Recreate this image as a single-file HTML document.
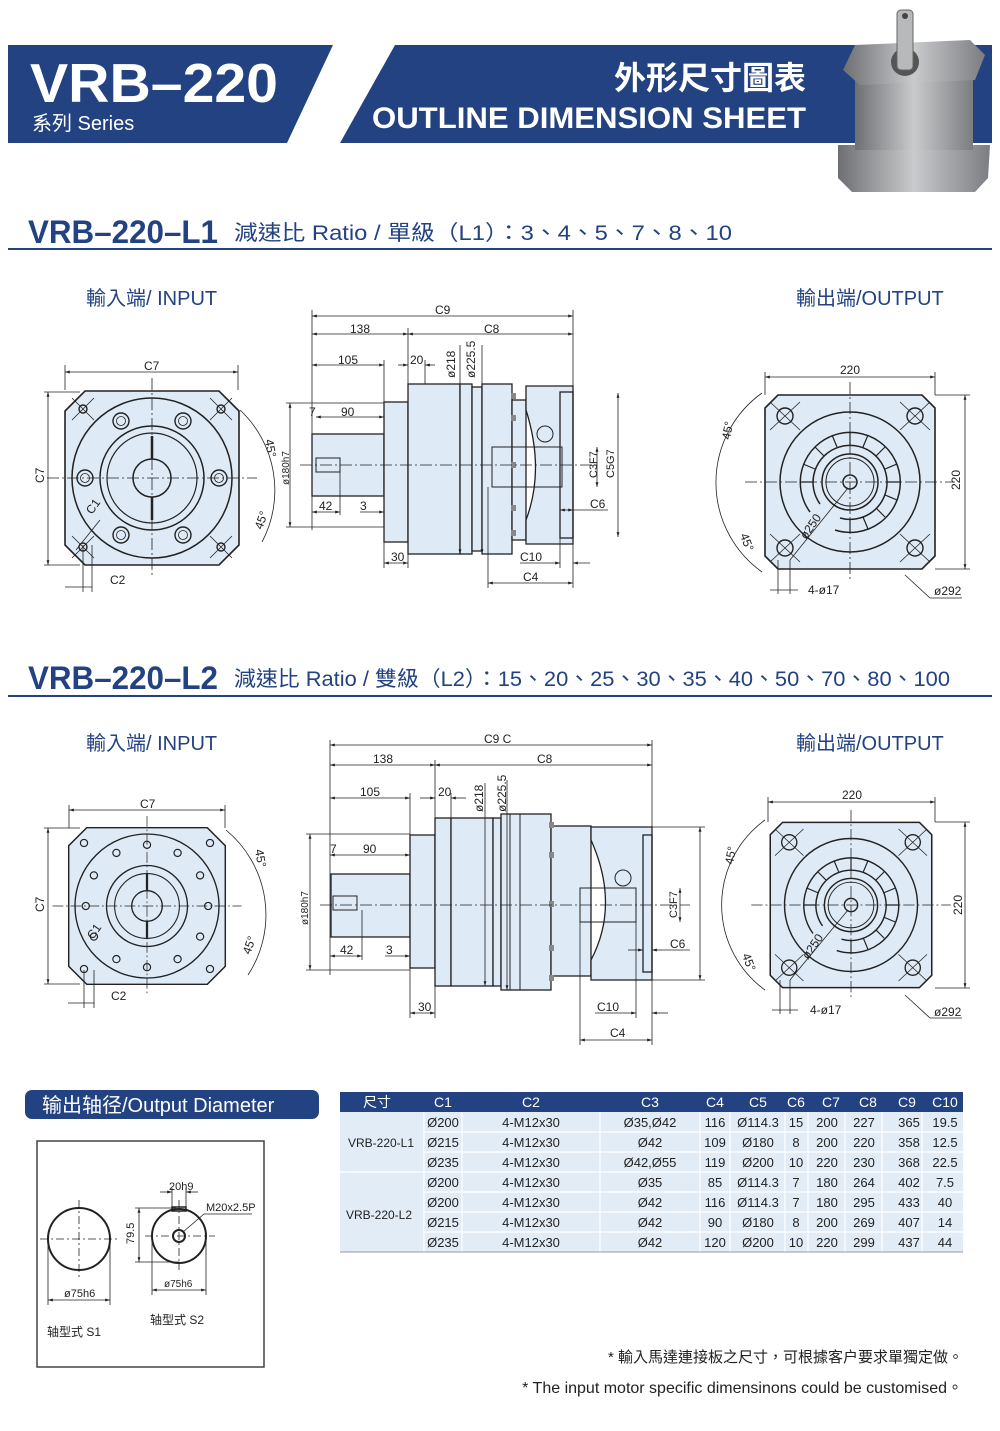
<!DOCTYPE html>
<html><head><meta charset="utf-8"><style>
html,body{margin:0;padding:0;background:#fff}
svg{display:block}
text{font-family:"Liberation Sans","Noto Sans CJK TC",sans-serif}
</style></head><body>
<svg width="1000" height="1431" viewBox="0 0 1000 1431" xmlns="http://www.w3.org/2000/svg">
<defs>
<linearGradient id="gm" x1="0" x2="1"><stop offset="0" stop-color="#6d6f72"/><stop offset=".5" stop-color="#c9cacc"/><stop offset="1" stop-color="#7b7d80"/></linearGradient>
<marker id="a" viewBox="0 0 10 10" refX="10" refY="5" markerWidth="6" markerHeight="6" orient="auto-start-reverse"><path d="M0,2 L10,5 L0,8z" fill="#222"/></marker>
<g id="inview">
 <path d="M-67,-87 L67,-87 L87,-67 L87,67 L67,87 L-67,87 L-87,67 L-87,-67Z" fill="#deeaf6" stroke="#222" stroke-width="1.6"/>
 <circle r="80" fill="none" stroke="#222" stroke-width="1.5"/>
 <circle r="52" fill="none" stroke="#222" stroke-width="1.5"/>
 <circle r="45" fill="none" stroke="#222" stroke-width="1.2"/>
 <circle r="19" fill="#deeaf6" stroke="#222" stroke-width="1.5"/>
 <line x1="0" y1="-42" x2="0" y2="-19" stroke="#222" stroke-width="2.5"/>
 <line x1="0" y1="19" x2="0" y2="42" stroke="#222" stroke-width="2.5"/>
 <g fill="#deeaf6" stroke="#222" stroke-width="1.4">
  <circle cx="-31" cy="-57" r="8"/><circle cx="31" cy="-57" r="8"/><circle cx="-67" cy="0" r="8"/><circle cx="67" cy="0" r="8"/><circle cx="-31" cy="57" r="8"/><circle cx="31" cy="57" r="8"/>
  <circle cx="-69" cy="-69" r="4"/><circle cx="69" cy="-69" r="4"/><circle cx="-69" cy="69" r="4"/><circle cx="69" cy="69" r="4"/>
 </g>
 <g fill="none" stroke="#222" stroke-width=".8">
  <circle cx="-31" cy="-57" r="4.5"/><circle cx="31" cy="-57" r="4.5"/><circle cx="-67" cy="0" r="4.5"/><circle cx="67" cy="0" r="4.5"/><circle cx="-31" cy="57" r="4.5"/><circle cx="31" cy="57" r="4.5"/>
  <path d="M-80,-80 L-58,-58 M80,-80 L58,-58 M-80,80 L-58,58 M80,80 L58,58 M-80,-58 L-58,-80 M80,-58 L58,-80 M-80,58 L-58,80 M80,58 L58,80"/>
 </g>
 <g stroke="#222" stroke-width=".8" stroke-dasharray="12,3,2,3"><line x1="-105" y1="0" x2="105" y2="0"/><line x1="0" y1="-100" x2="0" y2="100"/></g>
</g>
<g id="outview">
 <path d="M-72,-87 L72,-87 L85,-74 L85,74 L72,87 L-72,87 L-85,74 L-85,-74Z" fill="#deeaf6" stroke="#222" stroke-width="1.6"/>
 <circle r="70" fill="none" stroke="#222" stroke-width="1.5"/>
 <path d="M-30,22 A37,37 0 1 1 -10,36" fill="none" stroke="#222" stroke-width="1.5"/>
 <path d="M-40,30 A50,50 0 1 1 -15,48" fill="none" stroke="#222" stroke-width="1.5"/>
 <circle r="28" fill="none" stroke="#222" stroke-width="1.5"/>
 <circle r="24" fill="none" stroke="#222" stroke-width="1"/>
 <circle r="7" fill="#deeaf6" stroke="#222" stroke-width="1.5"/>
 <g stroke="#222" stroke-width="1.2"><path d="M0,-37 V-50 M26,-26 L35,-35 M37,0 H50 M26,26 L35,35 M0,37 V50 M-26,-26 L-35,-35 M-37,0 H-50 M13,-35 L18,-47 M-13,-35 L-18,-47 M35,-13 L47,-18 M35,13 L47,18 M13,35 L18,47 M-35,-13 L-47,-18"/></g>
 <g fill="#deeaf6" stroke="#222" stroke-width="1.4"><circle cx="-65" cy="-66" r="8"/><circle cx="65" cy="-66" r="8"/><circle cx="-65" cy="66" r="8"/><circle cx="65" cy="66" r="8"/></g>
 <g fill="none" stroke="#222" stroke-width=".8"><path d="M-80,-80 L-50,-52 M80,-80 L50,-52 M-80,80 L-50,52 M80,80 L50,52 M-80,-52 L-50,-80 M80,-52 L50,-80 M-80,52 L-50,80 M80,52 L50,80"/></g>
 <g stroke="#222" stroke-width=".8" stroke-dasharray="12,3,2,3"><line x1="-105" y1="0" x2="105" y2="0"/><line x1="0" y1="-100" x2="0" y2="100"/></g>
</g>
</defs>

<!-- header -->
<path d="M8,45 L333,45 L287,143 L8,143Z" fill="#234282"/>
<path d="M395,45 L992,45 L992,143 L340,143Z" fill="#234282"/>
<text x="30" y="102" font-size="55" font-weight="bold" fill="#fff" textLength="248" lengthAdjust="spacingAndGlyphs">VRB–220</text>
<text x="32" y="130" font-size="20" fill="#fff">系列 Series</text>
<text x="806" y="89" font-size="32" font-weight="bold" fill="#fff" text-anchor="end">外形尺寸圖表</text>
<text x="806" y="128" font-size="30" font-weight="bold" fill="#fff" text-anchor="end" textLength="434" lengthAdjust="spacingAndGlyphs">OUTLINE DIMENSION SHEET</text>
<!-- product image -->
<path d="M838,145 L990,145 L988,178 L975,192 L852,192 L838,178Z" fill="url(#gm)"/>
<rect x="855" y="80" width="118" height="70" fill="url(#gm)"/>
<path d="M855,45 L970,40 L985,55 L975,80 L860,85 L843,70Z" fill="url(#gm)"/>
<circle cx="905" cy="62" r="14" fill="#555"/>
<rect x="897" y="10" width="16" height="60" rx="4" fill="#b8b9bb" stroke="#666" stroke-width="1"/>
<circle cx="905" cy="16" r="3" fill="#444"/>

<!-- section titles -->
<text x="28" y="243" font-size="32" font-weight="bold" fill="#234282" textLength="190" lengthAdjust="spacingAndGlyphs">VRB–220–L1</text>
<text x="234" y="240" font-size="21" fill="#234282" textLength="498" lengthAdjust="spacingAndGlyphs">減速比 Ratio / 單級（L1）：3、4、5、7、8、10</text>
<line x1="8" y1="249" x2="992" y2="249" stroke="#234282" stroke-width="2"/>
<text x="28" y="689" font-size="32" font-weight="bold" fill="#234282" textLength="190" lengthAdjust="spacingAndGlyphs">VRB–220–L2</text>
<text x="234" y="686" font-size="21" fill="#234282" textLength="716" lengthAdjust="spacingAndGlyphs">減速比 Ratio / 雙級（L2）：15、20、25、30、35、40、50、70、80、100</text>
<line x1="8" y1="696" x2="992" y2="696" stroke="#234282" stroke-width="2"/>

<g font-size="20" fill="#234282">
<text x="86" y="305">輸入端/ INPUT</text><text x="796" y="305">輸出端/OUTPUT</text>
<text x="86" y="750">輸入端/ INPUT</text><text x="796" y="750">輸出端/OUTPUT</text>
</g>

<!-- L1 input -->
<use href="#inview" transform="translate(152,478)"/>
<g stroke="#222" stroke-width=".8" fill="none">
<line x1="65" y1="372" x2="238" y2="372" marker-start="url(#a)" marker-end="url(#a)"/>
<line x1="65" y1="365" x2="65" y2="390"/><line x1="238" y1="365" x2="238" y2="390"/>
<line x1="48" y1="392" x2="48" y2="565" marker-start="url(#a)" marker-end="url(#a)"/>
<line x1="44" y1="392" x2="80" y2="392"/><line x1="44" y1="565" x2="80" y2="565"/>
<line x1="65" y1="587" x2="92" y2="587"/><line x1="83" y1="545" x2="83" y2="592"/><line x1="92" y1="545" x2="92" y2="592"/>
<path d="M240,410 A110,110 0 0 1 262,542" />
<line x1="76" y1="550" x2="100" y2="520"/>
</g>
<g font-size="12" fill="#222"><text x="144" y="370">C7</text><text x="44" y="483" transform="rotate(-90 44 483)">C7</text><text x="110" y="584">C2</text><text x="92" y="515" transform="rotate(-55 92 515)">C1</text><text x="265" y="440" transform="rotate(80 265 440)">45°</text><text x="262" y="530" transform="rotate(-70 262 530)">45°</text></g>

<!-- L1 side -->
<g stroke="#222" stroke-width="1.3" fill="#deeaf6">
<rect x="312" y="434" width="72" height="62"/>
<rect x="384" y="402" width="24" height="140"/>
<rect x="408" y="384" width="52" height="170"/>
<rect x="460" y="384" width="12" height="170"/>
<rect x="472" y="387" width="10" height="164"/>
<rect x="482" y="384" width="30" height="170"/>
<rect x="512" y="400" width="14" height="140"/>
<path d="M526,386 L573,386 L573,544 L526,544 L526,520 Q545,470 526,410Z"/>
<rect x="560" y="392" width="13" height="146" fill="none"/>
</g>
<g fill="none" stroke="#222" stroke-width="1"><circle cx="545" cy="434" r="8"/><rect x="492" y="447" width="70" height="40"/><rect x="316" y="458" width="24" height="14"/></g>
<g fill="#888"><rect x="511" y="393" width="5" height="6"/><rect x="511" y="415" width="5" height="6"/><rect x="511" y="462" width="5" height="6"/><rect x="511" y="505" width="5" height="6"/><rect x="511" y="530" width="5" height="6"/></g>
<line x1="300" y1="465" x2="600" y2="465" stroke="#222" stroke-width=".8" stroke-dasharray="12,3,2,3"/>
<g stroke="#222" stroke-width=".8" fill="none">
<line x1="312" y1="316" x2="573" y2="316" marker-start="url(#a)" marker-end="url(#a)"/>
<line x1="312" y1="334" x2="408" y2="334" marker-start="url(#a)" marker-end="url(#a)"/>
<line x1="408" y1="334" x2="573" y2="334" marker-start="url(#a)" marker-end="url(#a)"/>
<line x1="312" y1="365" x2="384" y2="365" marker-start="url(#a)" marker-end="url(#a)"/>
<line x1="398" y1="365" x2="408" y2="365" marker-end="url(#a)"/><line x1="435" y1="365" x2="425" y2="365" marker-end="url(#a)"/>
<line x1="312" y1="310" x2="312" y2="530"/><line x1="573" y1="310" x2="573" y2="386"/><line x1="408" y1="328" x2="408" y2="384"/><line x1="384" y1="360" x2="384" y2="402"/><line x1="425" y1="360" x2="425" y2="384"/>
<line x1="460" y1="345" x2="460" y2="554" marker-end="url(#a)"/><line x1="482" y1="345" x2="482" y2="554" marker-end="url(#a)"/>
<line x1="316" y1="417" x2="384" y2="417" marker-start="url(#a)" marker-end="url(#a)"/>
<line x1="312" y1="512" x2="340" y2="512" marker-start="url(#a)" marker-end="url(#a)"/><line x1="340" y1="472" x2="340" y2="515"/>
<line x1="360" y1="512" x2="384" y2="512" marker-end="url(#a)"/>
<line x1="384" y1="563" x2="408" y2="563" marker-start="url(#a)" marker-end="url(#a)"/><line x1="384" y1="542" x2="384" y2="568"/><line x1="408" y1="554" x2="408" y2="568"/>
<line x1="520" y1="563" x2="560" y2="563" marker-end="url(#a)"/><line x1="590" y1="563" x2="573" y2="563" marker-end="url(#a)"/>
<line x1="488" y1="583" x2="573" y2="583" marker-start="url(#a)" marker-end="url(#a)"/><line x1="488" y1="487" x2="488" y2="588"/><line x1="573" y1="544" x2="573" y2="588"/><line x1="560" y1="538" x2="560" y2="568"/>
<line x1="290" y1="403" x2="290" y2="527" marker-start="url(#a)" marker-end="url(#a)"/><line x1="286" y1="403" x2="384" y2="403"/><line x1="286" y1="527" x2="384" y2="527"/>
<line x1="597" y1="447" x2="597" y2="487" marker-start="url(#a)" marker-end="url(#a)"/>
<line x1="618" y1="393" x2="618" y2="537" marker-start="url(#a)" marker-end="url(#a)"/>
<line x1="560" y1="510" x2="573" y2="510" marker-start="url(#a)" marker-end="url(#a)"/><line x1="573" y1="510" x2="608" y2="510"/>
</g>
<g font-size="12" fill="#222">
<text x="435" y="314">C9</text><text x="350" y="333">138</text><text x="484" y="333">C8</text><text x="338" y="364">105</text><text x="410" y="364">20</text>
<text x="455" y="378" transform="rotate(-90 455 378)">ø218</text><text x="475" y="378" transform="rotate(-90 475 378)">ø225.5</text>
<text x="309" y="416">7</text><text x="341" y="416">90</text><text x="319" y="510">42</text><text x="360" y="510">3</text><text x="391" y="561">30</text><text x="520" y="561">C10</text><text x="523" y="581">C4</text><text x="590" y="508">C6</text>
<text x="289" y="485" transform="rotate(-90 289 485)" font-size="10">ø180h7</text>
<text x="597" y="478" transform="rotate(-90 597 478)" font-size="11">C3F7</text><text x="614" y="478" transform="rotate(-90 614 478)" font-size="11">C5G7</text>
</g>

<!-- L1 output -->
<use href="#outview" transform="translate(850,482)"/>
<g stroke="#222" stroke-width=".8" fill="none">
<line x1="765" y1="377" x2="935" y2="377" marker-start="url(#a)" marker-end="url(#a)"/><line x1="765" y1="372" x2="765" y2="395"/><line x1="935" y1="372" x2="935" y2="395"/>
<line x1="965" y1="395" x2="965" y2="569" marker-start="url(#a)" marker-end="url(#a)"/><line x1="935" y1="395" x2="970" y2="395"/><line x1="935" y1="569" x2="970" y2="569"/>
<path d="M762,393 A110,110 0 0 0 762,572"/>
<line x1="770" y1="590" x2="798" y2="590"/><line x1="778" y1="560" x2="778" y2="594"/><line x1="790" y1="560" x2="790" y2="594"/>
<line x1="790" y1="560" x2="848" y2="488"/>
<path d="M905,575 L930,598 L962,598"/>
</g>
<g font-size="12" fill="#222"><text x="840" y="374">220</text><text x="960" y="490" transform="rotate(-90 960 490)">220</text><text x="808" y="594">4-ø17</text><text x="934" y="595">ø292</text>
<text x="730" y="440" transform="rotate(-80 730 440)">45°</text><text x="740" y="535" transform="rotate(70 740 535)">45°</text>
<text x="806" y="540" transform="rotate(-55 806 540)">ø250</text></g>

<!-- L2 input -->
<g transform="translate(147,906) scale(0.9)">
 <path d="M-67,-87 L67,-87 L87,-67 L87,67 L67,87 L-67,87 L-87,67 L-87,-67Z" fill="#deeaf6" stroke="#222" stroke-width="1.6"/>
 <circle r="80" fill="none" stroke="#222" stroke-width="1.5"/>
 <circle r="45" fill="none" stroke="#222" stroke-width="1.5"/><circle r="36" fill="none" stroke="#222" stroke-width="1.2"/>
 <circle r="17" fill="#deeaf6" stroke="#222" stroke-width="1.5"/>
 <line x1="0" y1="-36" x2="0" y2="-17" stroke="#222" stroke-width="2.5"/><line x1="0" y1="17" x2="0" y2="36" stroke="#222" stroke-width="2.5"/>
 <g fill="#deeaf6" stroke="#222" stroke-width="1.3">
  <circle cx="0" cy="-68" r="4"/><circle cx="34" cy="-59" r="4"/><circle cx="59" cy="-34" r="4"/><circle cx="68" cy="0" r="4"/><circle cx="59" cy="34" r="4"/><circle cx="34" cy="59" r="4"/><circle cx="0" cy="68" r="4"/><circle cx="-34" cy="59" r="4"/><circle cx="-59" cy="34" r="4"/><circle cx="-68" cy="0" r="4"/><circle cx="-59" cy="-34" r="4"/><circle cx="-34" cy="-59" r="4"/>
  <circle cx="-70" cy="-70" r="4"/><circle cx="70" cy="-70" r="4"/><circle cx="-70" cy="70" r="4"/><circle cx="70" cy="70" r="4"/>
 </g>
 <g stroke="#222" stroke-width=".8" stroke-dasharray="12,3,2,3"><line x1="-105" y1="0" x2="105" y2="0"/><line x1="0" y1="-100" x2="0" y2="100"/></g>
</g>
<g stroke="#222" stroke-width=".8" fill="none">
<line x1="69" y1="810" x2="225" y2="810" marker-start="url(#a)" marker-end="url(#a)"/><line x1="69" y1="805" x2="69" y2="828"/><line x1="225" y1="805" x2="225" y2="828"/>
<line x1="48" y1="828" x2="48" y2="984" marker-start="url(#a)" marker-end="url(#a)"/><line x1="44" y1="828" x2="80" y2="828"/><line x1="44" y1="984" x2="80" y2="984"/>
<line x1="68" y1="1003" x2="94" y2="1003"/><line x1="84" y1="970" x2="84" y2="1008"/><line x1="94" y1="970" x2="94" y2="1008"/>
<path d="M226,830 A110,110 0 0 1 248,975"/>
</g>
<g font-size="12" fill="#222"><text x="140" y="808">C7</text><text x="44" y="912" transform="rotate(-90 44 912)">C7</text><text x="111" y="1000">C2</text><text x="93" y="940" transform="rotate(-55 93 940)">C1</text><text x="255" y="850" transform="rotate(80 255 850)">45°</text><text x="250" y="955" transform="rotate(-70 250 955)">45°</text></g>

<!-- L2 side -->
<g stroke="#222" stroke-width="1.3" fill="#deeaf6">
<rect x="331" y="874" width="79" height="63"/>
<rect x="410" y="835" width="25" height="133"/>
<rect x="435" y="818" width="16" height="168"/>
<rect x="451" y="818" width="42" height="168"/>
<rect x="493" y="818" width="8" height="168"/>
<rect x="501" y="814" width="50" height="176"/>
<rect x="551" y="826" width="40" height="150"/>
<path d="M591,827 L652,827 L652,980 L591,980 L591,960 Q620,905 591,840Z"/>
<rect x="643" y="835" width="9" height="137" fill="none"/>
</g>
<g fill="none" stroke="#222" stroke-width="1"><circle cx="623" cy="878" r="8"/><rect x="580" y="888" width="56" height="34"/><rect x="333" y="896" width="24" height="14"/><line x1="510" y1="814" x2="510" y2="990"/><line x1="520" y1="814" x2="520" y2="990"/></g>
<g fill="#888"><rect x="549" y="822" width="5" height="6"/><rect x="549" y="852" width="5" height="6"/><rect x="549" y="901" width="5" height="6"/><rect x="549" y="945" width="5" height="6"/><rect x="549" y="975" width="5" height="6"/></g>
<line x1="320" y1="905" x2="690" y2="905" stroke="#222" stroke-width=".8" stroke-dasharray="12,3,2,3"/>
<g stroke="#222" stroke-width=".8" fill="none">
<line x1="330" y1="745" x2="652" y2="745" marker-start="url(#a)" marker-end="url(#a)"/>
<line x1="330" y1="765" x2="435" y2="765" marker-start="url(#a)" marker-end="url(#a)"/>
<line x1="435" y1="765" x2="652" y2="765" marker-start="url(#a)" marker-end="url(#a)"/>
<line x1="330" y1="798" x2="410" y2="798" marker-start="url(#a)" marker-end="url(#a)"/>
<line x1="420" y1="798" x2="435" y2="798" marker-end="url(#a)"/><line x1="466" y1="798" x2="451" y2="798" marker-end="url(#a)"/>
<line x1="330" y1="740" x2="330" y2="975"/><line x1="652" y1="740" x2="652" y2="827"/><line x1="435" y1="760" x2="435" y2="818"/><line x1="410" y1="793" x2="410" y2="835"/><line x1="451" y1="793" x2="451" y2="818"/>
<line x1="485" y1="783" x2="485" y2="986" marker-end="url(#a)"/><line x1="507" y1="780" x2="507" y2="990" marker-end="url(#a)"/>
<line x1="330" y1="855" x2="410" y2="855" marker-start="url(#a)" marker-end="url(#a)"/>
<line x1="330" y1="956" x2="362" y2="956" marker-start="url(#a)" marker-end="url(#a)"/><line x1="362" y1="910" x2="362" y2="960"/>
<line x1="385" y1="956" x2="410" y2="956" marker-end="url(#a)"/>
<line x1="410" y1="1013" x2="435" y2="1013" marker-start="url(#a)" marker-end="url(#a)"/><line x1="410" y1="968" x2="410" y2="1018"/><line x1="435" y1="986" x2="435" y2="1018"/>
<line x1="595" y1="1013" x2="636" y2="1013" marker-end="url(#a)"/><line x1="668" y1="1013" x2="652" y2="1013" marker-end="url(#a)"/>
<line x1="580" y1="1040" x2="652" y2="1040" marker-start="url(#a)" marker-end="url(#a)"/><line x1="580" y1="922" x2="580" y2="1045"/><line x1="652" y1="980" x2="652" y2="1045"/><line x1="636" y1="922" x2="636" y2="1018"/>
<line x1="310" y1="834" x2="310" y2="970" marker-start="url(#a)" marker-end="url(#a)"/><line x1="306" y1="834" x2="410" y2="834"/><line x1="306" y1="970" x2="410" y2="970"/>
<line x1="680" y1="888" x2="680" y2="922" marker-start="url(#a)" marker-end="url(#a)"/>
<line x1="700" y1="827" x2="700" y2="980" marker-start="url(#a)" marker-end="url(#a)"/><line x1="652" y1="827" x2="705" y2="827"/><line x1="652" y1="980" x2="705" y2="980"/>
<line x1="628" y1="950" x2="643" y2="950" marker-end="url(#a)"/><line x1="662" y1="950" x2="652" y2="950" marker-end="url(#a)"/><line x1="662" y1="950" x2="690" y2="950"/>
</g>
<g font-size="12" fill="#222">
<text x="484" y="743">C9 C</text><text x="373" y="763">138</text><text x="537" y="763">C8</text><text x="360" y="796">105</text><text x="438" y="796">20</text>
<text x="483" y="812" transform="rotate(-90 483 812)">ø218</text><text x="506" y="812" transform="rotate(-90 506 812)">ø225.5</text>
<text x="330" y="853">7</text><text x="363" y="853">90</text><text x="340" y="954">42</text><text x="386" y="954">3</text><text x="418" y="1011">30</text><text x="597" y="1011">C10</text><text x="610" y="1037">C4</text><text x="670" y="948">C6</text>
<text x="308" y="925" transform="rotate(-90 308 925)" font-size="10">ø180h7</text>
<text x="677" y="918" transform="rotate(-90 677 918)" font-size="11">C3F7</text>
</g>

<!-- L2 output -->
<g transform="translate(851,905) scale(0.95)"><use href="#outview"/></g>
<g stroke="#222" stroke-width=".8" fill="none">
<line x1="768" y1="802" x2="935" y2="802" marker-start="url(#a)" marker-end="url(#a)"/><line x1="768" y1="797" x2="768" y2="822"/><line x1="935" y1="797" x2="935" y2="822"/>
<line x1="965" y1="822" x2="965" y2="988" marker-start="url(#a)" marker-end="url(#a)"/><line x1="935" y1="822" x2="970" y2="822"/><line x1="935" y1="988" x2="970" y2="988"/>
<path d="M765,820 A105,105 0 0 0 765,990"/>
<line x1="772" y1="1010" x2="798" y2="1010"/><line x1="780" y1="980" x2="780" y2="1014"/><line x1="790" y1="980" x2="790" y2="1014"/>
<line x1="790" y1="980" x2="848" y2="910"/>
<path d="M905,995 L930,1018 L962,1018"/>
</g>
<g font-size="12" fill="#222"><text x="842" y="799">220</text><text x="962" y="915" transform="rotate(-90 962 915)">220</text><text x="810" y="1014">4-ø17</text><text x="934" y="1016">ø292</text>
<text x="733" y="865" transform="rotate(-80 733 865)">45°</text><text x="742" y="955" transform="rotate(70 742 955)">45°</text>
<text x="808" y="960" transform="rotate(-55 808 960)">ø250</text></g>

<!-- output diameter -->
<rect x="25" y="1090" width="294" height="29" rx="7" fill="#234282"/>
<text x="42" y="1112" font-size="20" fill="#fff">输出轴径/Output Diameter</text>
<rect x="37" y="1141" width="227" height="226" fill="#fff" stroke="#444" stroke-width="1.5"/>
<g stroke="#222" fill="none">
<circle cx="79" cy="1239" r="31" stroke-width="2"/>
<circle cx="179" cy="1236" r="27" stroke-width="2"/>
<circle cx="179" cy="1236" r="6" stroke-width="2"/>
<rect x="172" y="1207" width="14" height="4" stroke-width="1.5"/>
<g stroke-width=".8" stroke-dasharray="8,3,2,3"><line x1="40" y1="1239" x2="118" y2="1239"/><line x1="79" y1="1200" x2="79" y2="1280"/><line x1="145" y1="1236" x2="215" y2="1236"/><line x1="179" y1="1200" x2="179" y2="1270"/></g>
<g stroke-width=".8"><line x1="48" y1="1300" x2="110" y2="1300" marker-start="url(#a)" marker-end="url(#a)"/><line x1="48" y1="1245" x2="48" y2="1305"/><line x1="110" y1="1245" x2="110" y2="1305"/>
<line x1="152" y1="1290" x2="206" y2="1290" marker-start="url(#a)" marker-end="url(#a)"/><line x1="152" y1="1240" x2="152" y2="1295"/><line x1="206" y1="1240" x2="206" y2="1295"/>
<line x1="139" y1="1208" x2="139" y2="1262" marker-start="url(#a)" marker-end="url(#a)"/><line x1="135" y1="1208" x2="176" y2="1208"/><line x1="135" y1="1262" x2="179" y2="1262"/>
<line x1="160" y1="1192" x2="172" y2="1192" marker-end="url(#a)"/><line x1="198" y1="1192" x2="186" y2="1192" marker-end="url(#a)"/><line x1="172" y1="1188" x2="172" y2="1207"/><line x1="186" y1="1188" x2="186" y2="1207"/>
<path d="M183,1232 L204,1214 L252,1214"/></g>
</g>
<g font-size="11" fill="#222"><text x="64" y="1297">ø75h6</text><text x="164" y="1287" font-size="10">ø75h6</text><text x="169" y="1190">20h9</text><text x="206" y="1211">M20x2.5P</text><text x="134" y="1244" transform="rotate(-90 134 1244)">79.5</text>
<text x="47" y="1336" font-size="12">轴型式  S1</text><text x="150" y="1324" font-size="12">轴型式  S2</text></g>

<!-- table -->
<rect x="340" y="1092" width="623" height="20" fill="#234282"/>
<rect x="340" y="1112" width="623" height="140" fill="#e1ecf7"/>
<g font-size="14" fill="#fff" text-anchor="middle"><text x="377" y="1107">尺寸</text><text x="443" y="1107">C1</text><text x="531" y="1107">C2</text><text x="650" y="1107">C3</text><text x="715" y="1107">C4</text><text x="758" y="1107">C5</text><text x="796" y="1107">C6</text><text x="831" y="1107">C7</text><text x="868" y="1107">C8</text><text x="907" y="1107">C9</text><text x="945" y="1107">C10</text></g>
<g stroke="#fff" stroke-width="1.2">
<line x1="424" y1="1132" x2="963" y2="1132"/><line x1="424" y1="1152" x2="963" y2="1152"/><line x1="340" y1="1172" x2="963" y2="1172"/><line x1="424" y1="1192" x2="963" y2="1192"/><line x1="424" y1="1212" x2="963" y2="1212"/><line x1="424" y1="1232" x2="963" y2="1232"/>
<line x1="424" y1="1112" x2="424" y2="1252"/><line x1="462" y1="1112" x2="462" y2="1252"/><line x1="600" y1="1112" x2="600" y2="1252"/><line x1="700" y1="1112" x2="700" y2="1252"/><line x1="730" y1="1112" x2="730" y2="1252"/><line x1="785" y1="1112" x2="785" y2="1252"/><line x1="808" y1="1112" x2="808" y2="1252"/><line x1="845" y1="1112" x2="845" y2="1252"/><line x1="882" y1="1112" x2="882" y2="1252"/><line x1="922" y1="1112" x2="922" y2="1252"/>
</g>
<line x1="340" y1="1252" x2="963" y2="1252" stroke="#999" stroke-width="1"/>
<g font-size="13" fill="#222" text-anchor="middle">
<text x="381" y="1147" font-size="12">VRB-220-L1</text><text x="379" y="1219" font-size="12">VRB-220-L2</text>
<text x="443" y="1127">Ø200</text><text x="531" y="1127">4-M12x30</text><text x="650" y="1127">Ø35,Ø42</text><text x="715" y="1127">116</text><text x="758" y="1127">Ø114.3</text><text x="796" y="1127">15</text><text x="827" y="1127">200</text><text x="864" y="1127">227</text><text x="909" y="1127">365</text><text x="945" y="1127">19.5</text>
<text x="443" y="1147">Ø215</text><text x="531" y="1147">4-M12x30</text><text x="650" y="1147">Ø42</text><text x="715" y="1147">109</text><text x="758" y="1147">Ø180</text><text x="796" y="1147">8</text><text x="827" y="1147">200</text><text x="864" y="1147">220</text><text x="909" y="1147">358</text><text x="945" y="1147">12.5</text>
<text x="443" y="1167">Ø235</text><text x="531" y="1167">4-M12x30</text><text x="650" y="1167">Ø42,Ø55</text><text x="715" y="1167">119</text><text x="758" y="1167">Ø200</text><text x="796" y="1167">10</text><text x="827" y="1167">220</text><text x="864" y="1167">230</text><text x="909" y="1167">368</text><text x="945" y="1167">22.5</text>
<text x="443" y="1187">Ø200</text><text x="531" y="1187">4-M12x30</text><text x="650" y="1187">Ø35</text><text x="715" y="1187">85</text><text x="758" y="1187">Ø114.3</text><text x="796" y="1187">7</text><text x="827" y="1187">180</text><text x="864" y="1187">264</text><text x="909" y="1187">402</text><text x="945" y="1187">7.5</text>
<text x="443" y="1207">Ø200</text><text x="531" y="1207">4-M12x30</text><text x="650" y="1207">Ø42</text><text x="715" y="1207">116</text><text x="758" y="1207">Ø114.3</text><text x="796" y="1207">7</text><text x="827" y="1207">180</text><text x="864" y="1207">295</text><text x="909" y="1207">433</text><text x="945" y="1207">40</text>
<text x="443" y="1227">Ø215</text><text x="531" y="1227">4-M12x30</text><text x="650" y="1227">Ø42</text><text x="715" y="1227">90</text><text x="758" y="1227">Ø180</text><text x="796" y="1227">8</text><text x="827" y="1227">200</text><text x="864" y="1227">269</text><text x="909" y="1227">407</text><text x="945" y="1227">14</text>
<text x="443" y="1247">Ø235</text><text x="531" y="1247">4-M12x30</text><text x="650" y="1247">Ø42</text><text x="715" y="1247">120</text><text x="758" y="1247">Ø200</text><text x="796" y="1247">10</text><text x="827" y="1247">220</text><text x="864" y="1247">299</text><text x="909" y="1247">437</text><text x="945" y="1247">44</text>
</g>

<text x="963" y="1362" font-size="15" fill="#222" text-anchor="end">* 輸入馬達連接板之尺寸，可根據客户要求單獨定做。</text>
<text x="963" y="1393" font-size="16" fill="#222" text-anchor="end">* The input motor specific dimensinons could be customised。</text>
</svg>
</body></html>
